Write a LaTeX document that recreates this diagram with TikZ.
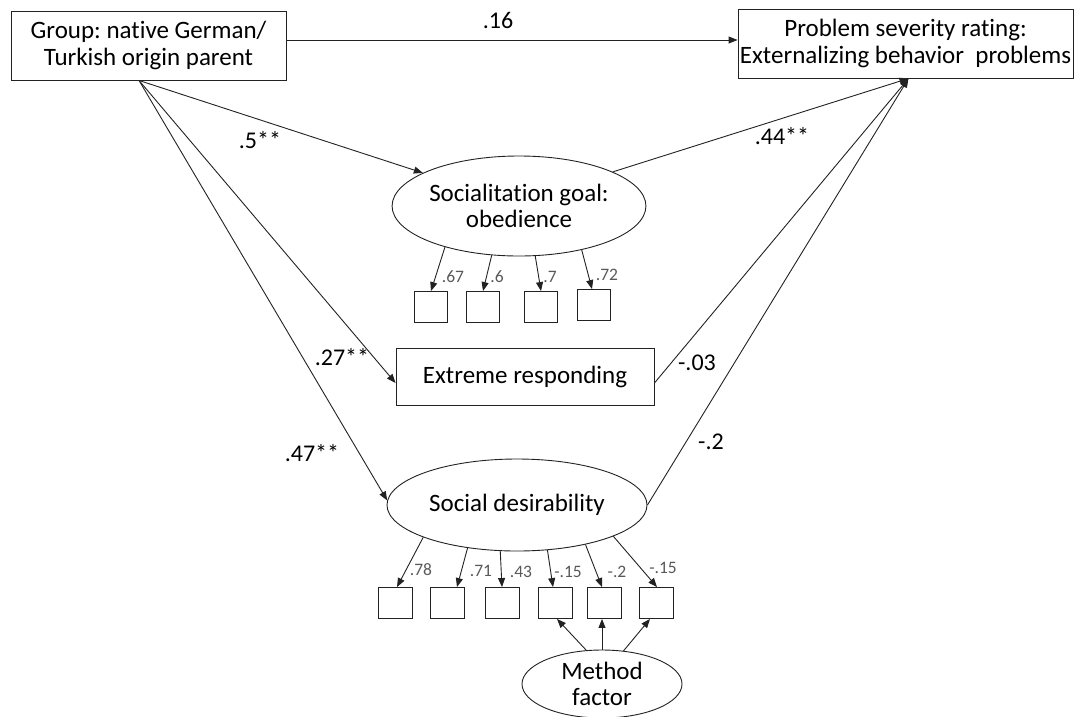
\documentclass[tikz,border=0pt]{standalone}
\usepackage{fontspec}
\setmainfont{Carlito}[Ligatures=NoCommon]
\frenchspacing
\usetikzlibrary{arrows.meta,shapes.geometric,calc}
\definecolor{lblgray}{HTML}{595959}
\definecolor{linec}{HTML}{222222}
\tikzset{
  box/.style={draw=linec,line width=0.9pt,inner sep=0pt,align=center,font=\fontsize{25}{26.5}\selectfont},
  lat/.style={ellipse,draw=linec,line width=0.9pt,inner sep=0pt,align=center,font=\fontsize{25}{26.5}\selectfont},
  ind/.style={draw=linec,line width=0.9pt,inner sep=0pt,minimum width=33pt,minimum height=31pt},
  arr/.style={draw=linec,line width=0.9pt,-{Triangle[length=9pt,width=7pt]}},
  plab/.style={font=\fontsize{24}{26}\selectfont,inner sep=0pt},
  slab/.style={font=\fontsize{17.5}{20}\selectfont,text=lblgray,inner sep=0pt}
}
\begin{document}
\begin{tikzpicture}[x=1pt,y=-1pt]
\useasboundingbox (0,0) rectangle (1075,716);
% main nodes
\node[box,minimum width=275pt,minimum height=69pt] (grp) at (148.5,45.5) {Group: native German/\\Turkish origin parent};
\node[box,minimum width=335pt,minimum height=69pt] (prob) at (905.5,43.5) {Problem severity rating:\\Externalizing behavior\ \ problems};
\node[lat,minimum width=248pt,minimum height=100pt] (obed) at (519,206) {Socialitation goal:\\obedience};
\node[box,minimum width=258pt,minimum height=57pt] (ext) at (525,376.5) {Extreme responding};
\node[lat,minimum width=260pt,minimum height=92pt] (sd) at (517,505) {Social desirability};
\node[lat,minimum width=160pt,minimum height=68pt] (meth) at (602,684) {Method\\factor};
% indicators obedience
\node[ind] (o1) at (431,307) {};
\node[ind] (o2) at (483,307) {};
\node[ind] (o3) at (541,307) {};
\node[ind] (o4) at (594,305) {};
% indicators social desirability
\node[ind,minimum width=34pt] (s1) at (395,603) {};
\node[ind,minimum width=34pt] (s2) at (447,603) {};
\node[ind,minimum width=34pt] (s3) at (502,603) {};
\node[ind,minimum width=34pt] (s4) at (555,603) {};
\node[ind,minimum width=34pt] (s5) at (604,603) {};
\node[ind,minimum width=34pt] (s6) at (656,603) {};
% helper coordinates
\coordinate (gs) at ([xshift=-9.5pt]grp.south);
\coordinate (pt) at ([xshift=3pt]prob.south);
% structural paths
\draw[arr] ([yshift=5.5pt]grp.east) -- ([yshift=5.5pt]grp.east -| prob.west);
\draw[arr] (gs) -- (obed.161.6);
\draw[arr] (gs) -- ([yshift=-6.5pt]ext.west);
\draw[arr] (gs) -- (sd.178);
\draw[arr] (obed.20) -- (pt);
\draw[arr] ([yshift=-6.5pt]ext.east) -- (pt);
\draw[arr] (sd.east) -- (pt);
% loadings obedience
\draw[arr] (obed.209.6) -- (o1.north);
\draw[arr] (obed.241.6) -- (o2.north);
\draw[arr] (obed.288.8) -- (o3.north);
\draw[arr] (obed.325) -- ([xshift=-2pt]o4.north);
% loadings social desirability
\draw[arr] (sd.199.7) -- ([xshift=2pt]s1.north);
\draw[arr] (sd.221) -- ([xshift=10pt]s2.north);
\draw[arr] (sd.250.5) -- (s3.north);
\draw[arr] (sd.304.5) -- ([xshift=-2pt]s4.north);
\draw[arr] (sd.330.7) -- ([xshift=-2pt]s5.north);
\draw[arr] (sd.342.3) -- ([xshift=1pt]s6.north);
% method factor
\draw[arr] (meth.115.8) -- ([xshift=2pt]s4.south);
\draw[arr] (meth.north) -- (meth.north |- s5.south);
\draw[arr] (meth.57) -- ([xshift=-6pt]s6.south);
% path labels
\node[plab] (l16) at (498,20) {.16};
\node[plab] (l5) at (260,140) {.5**};
\node[plab] (l27) at (342,357) {.27**};
\node[plab] (l47) at (312,453) {.47**};
\node[plab] (l44) at (782,136) {.44**};
\node[plab] (l03) at (697,363) {-.03};
\node[plab] (l2) at (711,442) {-.2};
% loading labels
\node[slab] (q1) at (453,277) {.67};
\node[slab] (q2) at (497,277) {.6};
\node[slab] (q3) at (550,277) {.7};
\node[slab] (q4) at (607,275) {.72};
\node[slab] (r1) at (421,570) {.78};
\node[slab] (r2) at (481,571) {.71};
\node[slab] (r3) at (521,572) {.43};
\node[slab] (r4) at (568,572) {-.15};
\node[slab] (r5) at (617,572) {-.2};
\node[slab] (r6) at (663,568) {-.15};
\end{tikzpicture}
\end{document}
